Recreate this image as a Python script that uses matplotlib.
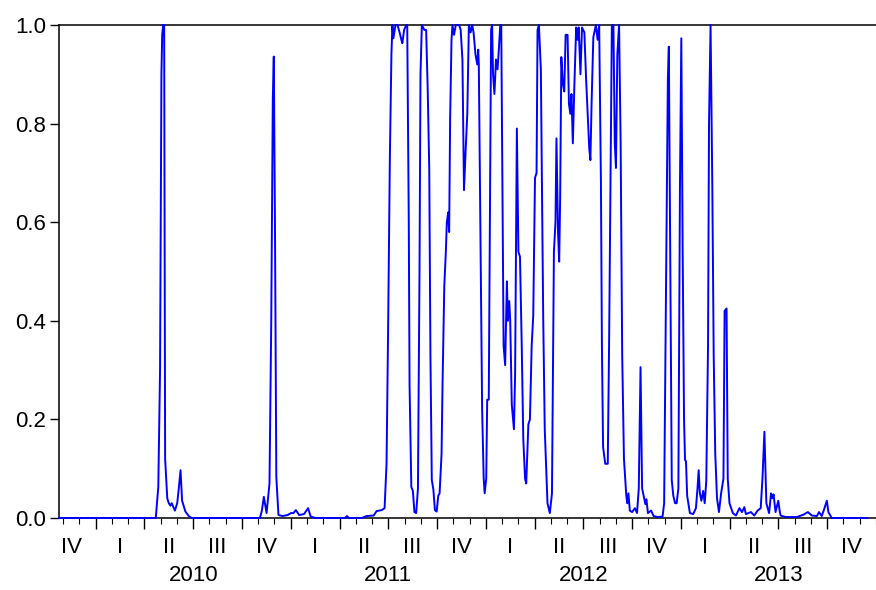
import numpy as np
import matplotlib
matplotlib.use("Agg")
import matplotlib.pyplot as plt

plt.rcParams['font.family'] = ['Liberation Sans', 'DejaVu Sans']

# observation time (decimal year) and smoothed regime probability
obs_time = [
    2009.812, 2010.304, 2010.308, 2010.321, 2010.330, 2010.337, 2010.341, 2010.346,
    2010.351, 2010.356, 2010.367, 2010.375, 2010.383, 2010.390, 2010.406, 2010.418,
    2010.426, 2010.435, 2010.443, 2010.460, 2010.477, 2010.492,
    2010.842, 2010.852, 2010.862, 2010.876, 2010.891, 2010.900, 2010.908, 2010.913,
    2010.919, 2010.926, 2010.937, 2010.958, 2010.984, 2011.001, 2011.014, 2011.026,
    2011.043, 2011.068, 2011.089, 2011.102, 2011.126,
    2011.278, 2011.288, 2011.298, 2011.364, 2011.389, 2011.425, 2011.440, 2011.466,
    2011.481, 2011.491, 2011.499, 2011.508, 2011.516, 2011.521, 2011.526, 2011.537,
    2011.547, 2011.558, 2011.567, 2011.572, 2011.581, 2011.592, 2011.597, 2011.605,
    2011.609, 2011.614, 2011.618, 2011.626, 2011.634, 2011.643, 2011.652, 2011.660,
    2011.665, 2011.672, 2011.685, 2011.694, 2011.702, 2011.710, 2011.716, 2011.723,
    2011.731, 2011.739, 2011.748, 2011.756, 2011.763, 2011.773, 2011.778, 2011.787,
    2011.795, 2011.800, 2011.807, 2011.812, 2011.817, 2011.824, 2011.829, 2011.837,
    2011.846, 2011.863, 2011.871, 2011.880, 2011.888, 2011.897, 2011.905, 2011.913,
    2011.922, 2011.930, 2011.937, 2011.947, 2011.956, 2011.961, 2011.964, 2011.973,
    2011.981, 2011.989, 2011.994, 2012.002, 2012.007, 2012.015, 2012.020, 2012.027,
    2012.032, 2012.037, 2012.044, 2012.052, 2012.060, 2012.065, 2012.074, 2012.079,
    2012.091, 2012.099, 2012.108, 2012.113, 2012.120, 2012.125, 2012.133, 2012.144,
    2012.150, 2012.159, 2012.167, 2012.175, 2012.184, 2012.192, 2012.201, 2012.207,
    2012.218, 2012.226, 2012.235, 2012.243, 2012.252, 2012.260, 2012.265, 2012.272,
    2012.282, 2012.294, 2012.302, 2012.316, 2012.328, 2012.339, 2012.349, 2012.357,
    2012.362, 2012.370, 2012.376, 2012.381, 2012.387, 2012.395, 2012.402, 2012.409,
    2012.419, 2012.426, 2012.433, 2012.439, 2012.446, 2012.454, 2012.463, 2012.470,
    2012.476, 2012.485, 2012.493, 2012.505, 2012.514, 2012.522, 2012.530, 2012.536,
    2012.542, 2012.551, 2012.564, 2012.573, 2012.581, 2012.590, 2012.595, 2012.601,
    2012.612, 2012.625, 2012.632, 2012.641, 2012.646, 2012.654, 2012.661, 2012.667,
    2012.674, 2012.683, 2012.691, 2012.699, 2012.708, 2012.720, 2012.725, 2012.731,
    2012.738, 2012.750, 2012.764, 2012.775, 2012.784, 2012.793, 2012.801, 2012.809,
    2012.818, 2012.823, 2012.831, 2012.847, 2012.860, 2012.880, 2012.906, 2012.914,
    2012.924, 2012.933, 2012.938, 2012.945, 2012.953, 2012.961, 2012.970, 2012.978,
    2012.987, 2012.995, 2013.002, 2013.009, 2013.016, 2013.021, 2013.026, 2013.032,
    2013.046, 2013.063, 2013.077, 2013.085, 2013.091, 2013.097, 2013.105, 2013.114,
    2013.122, 2013.130, 2013.139, 2013.144, 2013.152, 2013.161, 2013.168, 2013.176,
    2013.185, 2013.195, 2013.206, 2013.218, 2013.224, 2013.234, 2013.240, 2013.249,
    2013.266, 2013.282, 2013.300, 2013.313, 2013.325, 2013.333, 2013.359, 2013.376,
    2013.393, 2013.409, 2013.418, 2013.428, 2013.438, 2013.452, 2013.462, 2013.469,
    2013.475, 2013.485, 2013.499, 2013.506, 2013.511, 2013.536, 2013.595, 2013.629,
    2013.651, 2013.671, 2013.697, 2013.708, 2013.722, 2013.736, 2013.748, 2013.756,
    2013.773, 2013.955,
]

prob = [
    0.0, 0.0, 0.0, 0.063, 0.30, 0.90, 0.98, 1.0,
    1.0, 0.12, 0.04, 0.03, 0.025, 0.03, 0.015, 0.03,
    0.06, 0.097, 0.035, 0.013, 0.004, 0.0,
    0.0, 0.015, 0.043, 0.01, 0.07, 0.40, 0.85, 0.936,
    0.60, 0.083, 0.006, 0.004, 0.006, 0.01, 0.01, 0.016,
    0.006, 0.008, 0.02, 0.003, 0.0,
    0.0, 0.004, 0.0, 0.0, 0.004, 0.005, 0.014, 0.016,
    0.02, 0.11, 0.38, 0.73, 0.94, 1.0, 0.973, 1.0,
    1.0, 0.985, 0.97, 0.963, 0.99, 1.0, 1.0, 0.60,
    0.27, 0.15, 0.063, 0.055, 0.012, 0.01, 0.06, 0.50,
    0.90, 1.0, 0.99, 0.99, 0.87, 0.706, 0.33, 0.077,
    0.058, 0.016, 0.013, 0.045, 0.05, 0.13, 0.27, 0.47,
    0.54, 0.60, 0.62, 0.58, 0.81, 0.97, 1.0, 0.98,
    1.0, 1.0, 0.99, 0.93, 0.665, 0.75, 0.82, 1.0,
    0.985, 1.0, 0.985, 0.94, 0.92, 0.95, 0.92, 0.56,
    0.22, 0.08, 0.05, 0.08, 0.24, 0.24, 0.56, 0.99,
    1.0, 0.90, 0.86, 0.93, 0.91, 0.94, 1.0, 1.0,
    0.35, 0.31, 0.48, 0.40, 0.44, 0.40, 0.23, 0.18,
    0.29, 0.79, 0.54, 0.53, 0.35, 0.16, 0.08, 0.07,
    0.19, 0.20, 0.35, 0.41, 0.69, 0.70, 0.99, 1.0,
    0.91, 0.41, 0.18, 0.03, 0.01, 0.05, 0.54, 0.60,
    0.77, 0.58, 0.52, 0.65, 0.935, 0.88, 0.865, 0.98,
    0.98, 0.84, 0.82, 0.86, 0.76, 0.88, 0.995, 0.97,
    0.995, 0.90, 0.995, 0.985, 0.89, 0.82, 0.75, 0.726,
    0.84, 0.975, 1.0, 0.97, 1.0, 0.68, 0.35, 0.144,
    0.11, 0.11, 0.36, 0.76, 1.0, 1.0, 0.76, 0.71,
    0.94, 1.0, 0.76, 0.33, 0.12, 0.045, 0.03, 0.05,
    0.015, 0.012, 0.02, 0.01, 0.06, 0.306, 0.06, 0.045,
    0.028, 0.038, 0.01, 0.015, 0.004, 0.002, 0.003, 0.03,
    0.47, 0.89, 0.956, 0.54, 0.077, 0.045, 0.03, 0.03,
    0.06, 0.67, 0.973, 0.54, 0.20, 0.118, 0.115, 0.045,
    0.01, 0.008, 0.02, 0.06, 0.097, 0.05, 0.035, 0.055,
    0.03, 0.075, 0.35, 0.80, 1.0, 0.67, 0.33, 0.13,
    0.04, 0.012, 0.05, 0.08, 0.42, 0.425, 0.08, 0.03,
    0.01, 0.005, 0.02, 0.012, 0.022, 0.008, 0.012, 0.005,
    0.015, 0.02, 0.08, 0.175, 0.03, 0.01, 0.05, 0.04,
    0.048, 0.012, 0.035, 0.015, 0.005, 0.002, 0.002, 0.007,
    0.012, 0.005, 0.004, 0.012, 0.004, 0.02, 0.035, 0.012,
    0.0, 0.0,
]

quarter_names = ["I", "II", "III", "IV"]
years = [2010, 2011, 2012, 2013]
x_start, x_end = 2009.812, 2013.955

fig = plt.figure(figsize=(8.76, 5.90), dpi=100)
ax = fig.add_axes([59 / 876, 72 / 590, 817 / 876, 493 / 590])

ax.plot(obs_time, prob, color='#0000FF', linewidth=1.4, clip_on=False, zorder=3)

ax.set_xlim(x_start, x_end)
ax.set_ylim(0, 1.0)

# quarter boundaries as major ticks, months as minor ticks
ax.set_xticks(np.arange(2010.0, 2014.0, 0.25))
ax.set_xticks(np.arange(2009 + 10 / 12, 2014.0, 1 / 12), minor=True)
ax.set_xticklabels([])
ax.set_yticks([0.0, 0.2, 0.4, 0.6, 0.8, 1.0])
ax.set_yticklabels(["%.1f" % v for v in [0.0, 0.2, 0.4, 0.6, 0.8, 1.0]], fontsize=16)

ax.tick_params(axis='x', which='major', direction='out', length=8, width=1, color='black')
ax.tick_params(axis='x', which='minor', direction='out', length=4.5, width=0.8, color='black')
ax.tick_params(axis='y', which='major', direction='out', length=6.5, width=1, pad=3,
               color='black', labelcolor='black')

for side in ['left', 'bottom', 'top']:
    ax.spines[side].set_linewidth(1.1)
    ax.spines[side].set_color('black')
ax.spines['right'].set_visible(False)

# quarter labels (centred in each quarter) and year labels below
trans = ax.get_xaxis_transform()
q_centres = np.arange(2009.875, 2014.0, 0.25)
for i, xc in enumerate(q_centres):
    name = quarter_names[(i + 3) % 4]
    ax.text(xc, -0.06, name, transform=trans, ha='center', va='center',
            fontsize=16, color='black', clip_on=False)
for yr in years:
    ax.text(yr + 0.5, -0.117, str(yr), transform=trans, ha='center', va='center',
            fontsize=16, color='black', clip_on=False)

fig.savefig("out.png", dpi=100)
plt.close(fig)
